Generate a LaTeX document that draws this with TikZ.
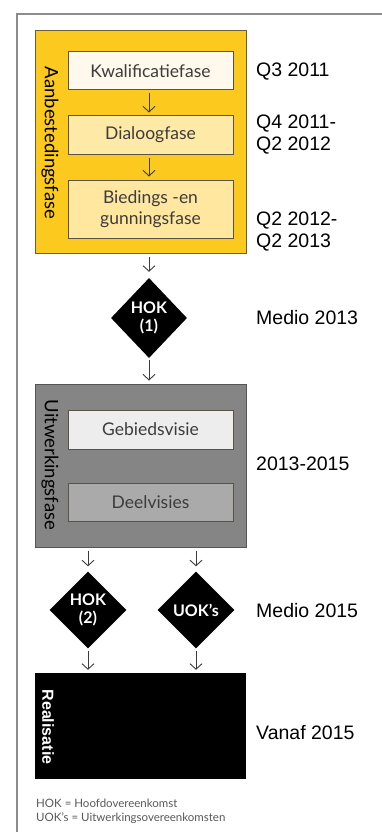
\documentclass[tikz,border=0pt]{standalone}
\usepackage{fontspec}
\setmainfont{Lato}
\newfontfamily\datefont{Liberation Sans}
\usetikzlibrary{shapes.geometric,arrows.meta}

\definecolor{phaseyellow}{HTML}{FCCA1E}
\definecolor{yellowedge}{HTML}{6E5E34}
\definecolor{boxedge}{HTML}{5A5244}
\definecolor{kwfill}{HTML}{FFF8EC}
\definecolor{dialfill}{HTML}{FFE9A6}
\definecolor{biedfill}{HTML}{FFE7A0}
\definecolor{greyphase}{HTML}{858585}
\definecolor{greyedge}{HTML}{555555}
\definecolor{gebfill}{HTML}{EDEDED}
\definecolor{deelfill}{HTML}{AAAAAA}
\definecolor{inktext}{HTML}{3C3C3C}
\definecolor{framegrey}{HTML}{8C8C8C}

\tikzset{
  phasebox/.style={draw=#1, line width=1pt, inner sep=0pt},
  stepbox/.style={draw=boxedge, line width=1pt, minimum width=165pt, inner sep=0pt,
    font=\fontsize{17.5}{21}\selectfont, text=inktext, align=center},
  sidelabel/.style={rotate=-90, font=\fontsize{18.5}{21}\selectfont, inner sep=0pt},
  decision/.style={diamond, fill=black, inner sep=0pt, text=white,
    font=\fontsize{16}{18}\selectfont\bfseries, align=center},
  datelabel/.style={anchor=west, inner sep=0pt, align=left,
    font=\datefont\fontsize{19.5}{22}\selectfont},
  flow/.style={draw=inktext, line width=0.9pt, -{Straight Barb[length=5.5pt,width=12pt]},
    shorten <=3pt, shorten >=3pt},
  legend/.style={anchor=west, inner sep=0pt, text=inktext!85,
    font=\fontsize{11.5}{13}\selectfont},
}

\begin{document}
\begin{tikzpicture}[x=1pt,y=-1pt]
\useasboundingbox (0,0) rectangle (382,832);
\fill[white] (0,0) rectangle (382,832);

% page frame
\draw[framegrey, line width=1.5pt] (17,840) -- (17,14) -- (390,14);

% tender phase
\node[phasebox=yellowedge, fill=phaseyellow, minimum width=211pt, minimum height=222pt]
  (tender) at (140.5,142) {};
\node[sidelabel] (tenderlbl) at (50,143) {Aanbestedingsfase};
\node[stepbox, fill=kwfill, minimum height=38pt] (kwal) at (150.5,71) {Kwalificatiefase};
\node[stepbox, fill=dialfill, minimum height=38pt] (dial) at (150.5,135) {Dialoogfase};
\node[stepbox, fill=biedfill, minimum height=58pt] (bied) at (150.5,209)
  {Biedings -en\\gunningsfase};

% first main agreement
\node[decision, minimum width=76pt, minimum height=80pt] (hok1) at (149,318) {HOK\\(1)};

% elaboration phase
\node[phasebox=greyedge, fill=greyphase, minimum width=211pt, minimum height=163pt]
  (uitw) at (140.5,465.5) {};
\node[sidelabel] (uitwlbl) at (50,465) {Uitwerkingsfase};
\node[stepbox, fill=gebfill, minimum height=39pt] (geb) at (150.5,429.5) {Gebiedsvisie};
\node[stepbox, fill=deelfill, minimum height=38pt] (deel) at (150.5,502) {Deelvisies};

% second agreements
\node[decision, minimum width=77pt, minimum height=77pt] (hok2) at (88,610) {HOK\\(2)};
\node[decision, minimum width=77pt, minimum height=77pt] (uok) at (196,610) {UOK’s};

% realisation
\node[fill=black, minimum width=211pt, minimum height=106pt, inner sep=0pt]
  (real) at (140.5,726) {};
\node[sidelabel, text=white, font=\datefont\fontsize{16}{19}\selectfont\bfseries]
  (reallbl) at (48,727) {Realisatie};

% connectors
\draw[flow] (kwal.south -| 149,0) -- (dial.north -| 149,0);
\draw[flow] (dial.south -| 149,0) -- (bied.north -| 149,0);
\draw[flow, shorten >=6pt] (tender.south -| hok1.north) -- (hok1.north);
\draw[flow, shorten <=2pt] (hok1.south) -- (uitw.north -| hok1.south);
\draw[flow, shorten >=5pt] (uitw.south -| hok2.north) -- (hok2.north);
\draw[flow, shorten >=5pt] (uitw.south -| uok.north) -- (uok.north);
\draw[flow, shorten <=2pt] (hok2.south) -- (real.north -| hok2.south);
\draw[flow, shorten <=2pt] (uok.south) -- (real.north -| uok.south);

% timeline
\node[datelabel] (d1) at (256,72) {Q3 2011};
\node[datelabel] (d2) at (256,135) {Q4 2011-\\Q2 2012};
\node[datelabel] (d3) at (256,232) {Q2 2012-\\Q2 2013};
\node[datelabel] (d4) at (256,318) {Medio 2013};
\node[datelabel] (d5) at (256,464) {2013-2015};
\node[datelabel] (d6) at (256,611) {Medio 2015};
\node[datelabel] (d7) at (256,733) {Vanaf 2015};

% key
\node[legend] (key1) at (36,803) {HOK = Hoofdovereenkomst};
\node[legend] (key2) at (36,818) {UOK’s = Uitwerkingsovereenkomsten};
\end{tikzpicture}
\end{document}
